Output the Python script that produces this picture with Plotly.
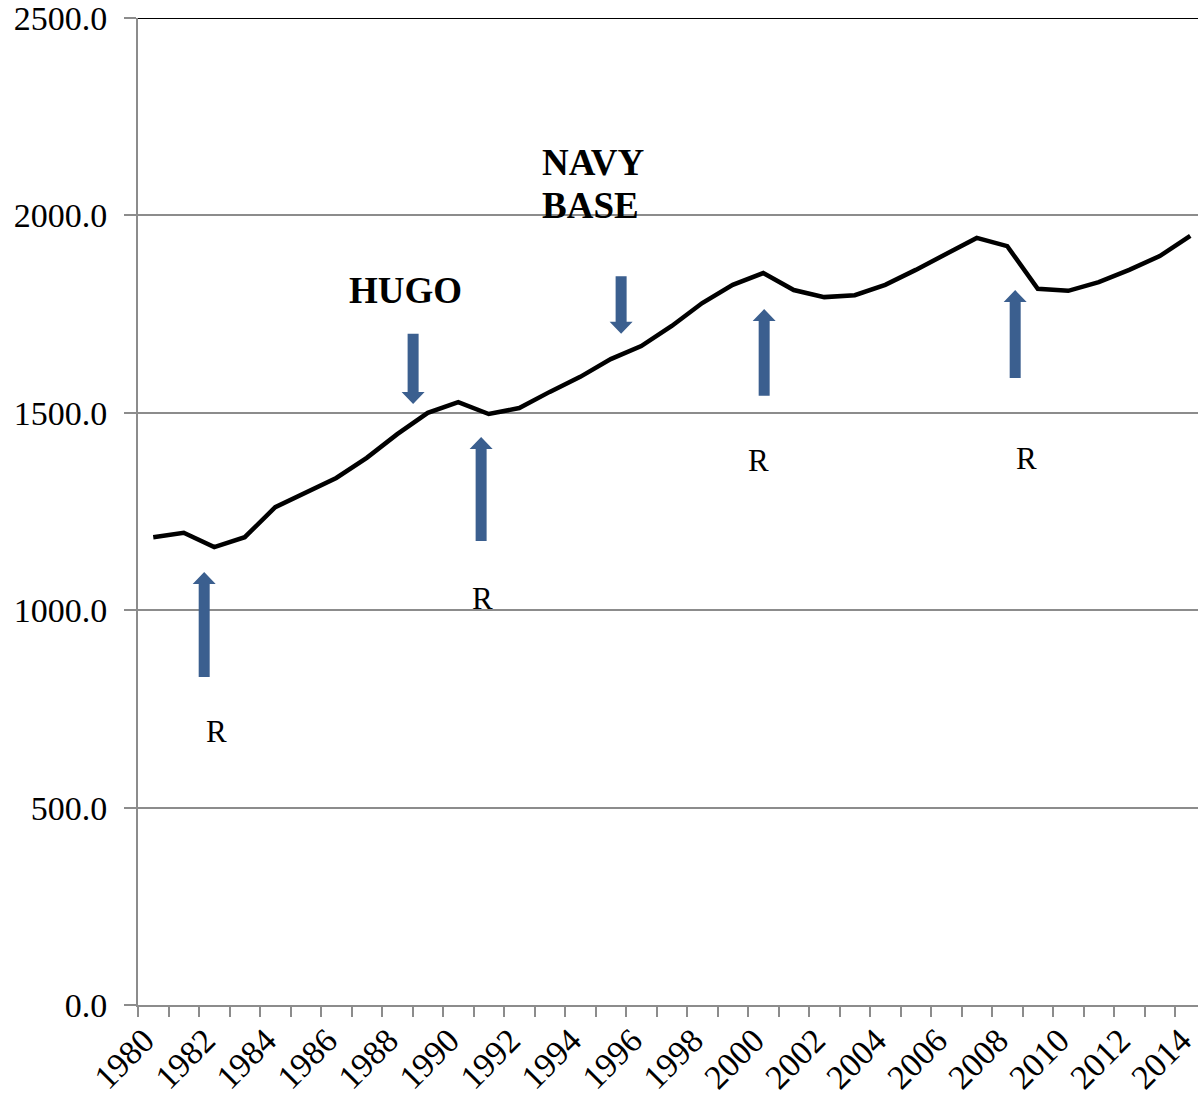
import plotly.graph_objects as go

years = list(range(1980, 2015))
values = [1185, 1196, 1160, 1185, 1261, 1297, 1335, 1386, 1446, 1500,
          1527, 1497, 1512, 1553, 1591, 1636, 1669, 1720, 1778, 1824,
          1854, 1811, 1793, 1798, 1824, 1862, 1902, 1943, 1922, 1814,
          1809, 1831, 1862, 1897, 1948]
tick_years = list(range(1980, 2015, 2))
y_ticks = [0, 500, 1000, 1500, 2000, 2500]

# arrows: (x center year, tail value, tip value)
arrows = [
    (1981.67, 831, 1097),
    (1988.52, 1700, 1522),
    (1990.75, 1175, 1439),
    (1995.34, 1846, 1700),
    (2000.03, 1543, 1763),
    (2008.26, 1588, 1811),
]
r_labels = [(1982.07, 693), (1990.79, 1030), (1999.84, 1380), (2008.62, 1385)]

W, H = 1198, 1102
ml, mr, mt, mb = 138, 0, 18, 97
px_per_year = 30.5
x0 = 1979.5
x1 = x0 + (W - ml - mr) / px_per_year
units_per_px = 2500 / (H - mt - mb)

fig = go.Figure()
fig.add_trace(go.Scatter(x=years, y=values, mode="lines",
                         line=dict(color="black", width=4.5), hoverinfo="skip"))

shapes = []
arrow_color = "#3B5F8F"
shaft_w = 11 / px_per_year
head_w = 23 / px_per_year
head_len = 12 * units_per_px
for (xc, tail, tip) in arrows:
    d = 1 if tip > tail else -1
    base = tip - d * head_len
    path = (f"M {xc - shaft_w/2},{tail} L {xc - shaft_w/2},{base} "
            f"L {xc - head_w/2},{base} L {xc},{tip} L {xc + head_w/2},{base} "
            f"L {xc + shaft_w/2},{base} L {xc + shaft_w/2},{tail} Z")
    shapes.append(dict(type="path", path=path, xref="x", yref="y",
                       fillcolor=arrow_color, line=dict(width=0)))

shapes.append(dict(type="line", xref="paper", yref="y", x0=0, x1=1, y0=2500, y1=2500,
                   line=dict(color="black", width=2)))

serif = "Liberation Serif, Times New Roman, serif"
annotations = []
for (xa, ya) in r_labels:
    annotations.append(dict(x=xa, y=ya, xref="x", yref="y", text="R", showarrow=False,
                            font=dict(family=serif, size=31, color="black")))
annotations.append(dict(x=1988.26, y=1811, xref="x", yref="y", text="<b>HUGO</b>",
                        showarrow=False,
                        font=dict(family=serif, size=37, color="black")))
annotations.append(dict(x=1992.69, y=2135, xref="x", yref="y", text="<b>NAVY</b>",
                        showarrow=False, xanchor="left",
                        font=dict(family=serif, size=37, color="black")))
annotations.append(dict(x=1992.69, y=2024, xref="x", yref="y", text="<b>BASE</b>",
                        showarrow=False, xanchor="left",
                        font=dict(family=serif, size=37, color="black")))

fig.update_layout(
    width=W, height=H,
    margin=dict(l=ml, r=mr, t=mt, b=mb, autoexpand=False),
    paper_bgcolor="white", plot_bgcolor="white",
    showlegend=False,
    shapes=shapes, annotations=annotations,
    font=dict(family=serif, size=34, color="black"),
    xaxis=dict(range=[x0, x1], tickvals=tick_years, ticktext=[str(y) for y in tick_years],
               tickangle=-45, ticks="", showgrid=False, zeroline=False,
               showline=True, linecolor="#8c8c8c", linewidth=2,
               ticklabeloverflow="allow", automargin=False, ticklabelshift=-9,
               tickfont=dict(family=serif, size=34, color="black"),
               minor=dict(tick0=1979.5, dtick=1, ticks="outside", ticklen=10,
                          tickcolor="#8c8c8c", tickwidth=2, showgrid=False)),
    yaxis=dict(range=[0, 2500], tickvals=y_ticks, tickformat=".1f",
               ticks="outside", ticklen=12, tickcolor="#8c8c8c", tickwidth=2,
               showgrid=True, gridcolor="#8c8c8c", gridwidth=2, zeroline=False,
               showline=True, linecolor="#8c8c8c", linewidth=2,
               ticklabelstandoff=10, ticklabeloverflow="allow", automargin=False,
               tickfont=dict(family=serif, size=34, color="black")),
)

fig.write_html("out.html", config={"displayModeBar": False},
               post_script="document.body.style.margin='0px';document.body.style.padding='0px';")
